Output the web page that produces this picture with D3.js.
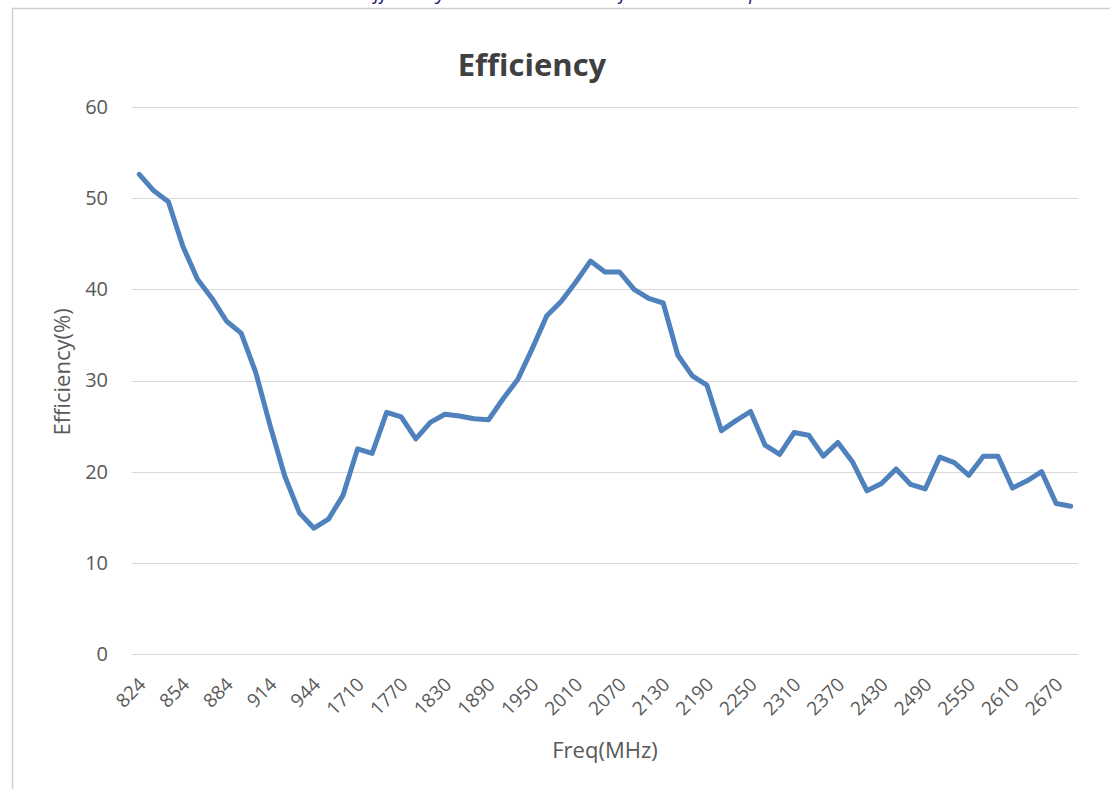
<!DOCTYPE html>
<html>
<head>
<meta charset="utf-8">
<script src="https://cdn.jsdelivr.net/npm/d3@7"></script>
<style>
  body { margin: 0; background: #fff; }
  text { font-family: "Open Sans", "Noto Sans", sans-serif; }
</style>
</head>
<body>
<div id="chart"></div>
<script>
(function() {
    var width = 1110,
        height = 789;

    // frequencies (MHz), one per measured point
    var freqs = ["824","834","844","854","864","874","884","894","904","914","924","934","944","954","960",
        "1710","1730","1750","1770","1790","1810","1830","1850","1870","1890","1910","1930","1950","1970","1990",
        "2010","2030","2050","2070","2090","2110","2130","2150","2170","2190","2210","2230","2250","2270","2290",
        "2310","2330","2350","2370","2390","2410","2430","2450","2470","2490","2510","2530","2550","2570","2590",
        "2610","2630","2650","2670","2690"];

    var efficiency = [52.6, 50.8, 49.6, 44.7, 41.1, 39.0, 36.5, 35.2, 30.9, 25.0, 19.5, 15.5, 13.8, 14.8, 17.4,
        22.5, 22.0, 26.5, 26.0, 23.6, 25.4, 26.3, 26.1, 25.8, 25.7, 28.0, 30.1, 33.5, 37.1, 38.7,
        40.8, 43.1, 41.9, 41.9, 40.0, 39.0, 38.5, 32.8, 30.5, 29.5, 24.5, 25.6, 26.6, 22.9, 21.9,
        24.3, 24.0, 21.7, 23.2, 21.1, 17.9, 18.7, 20.3, 18.6, 18.1, 21.6, 21.0, 19.6, 21.7, 21.7,
        18.2, 19.0, 20.0, 16.5, 16.2];

    var yTicks = [0, 10, 20, 30, 40, 50, 60];

    var svg = d3.select("#chart")
        .append("svg")
        .attr("width", width)
        .attr("height", height)

    // outer frame of the chart object (cropped)
    svg.append("path")
        .attr("d", "M12.5," + height + "V8.5H" + width)
        .attr("fill", "none")
        .attr("stroke", "#d0d0d0")
        .attr("stroke-width", 1.5)

    // heading of the page, cut off at the top edge
    svg.append("text")
        .attr("x", 570)
        .attr("y", -1)
        .attr("text-anchor", "middle")
        .attr("font-size", 20)
        .attr("font-style", "italic")
        .attr("fill", "#1f1f7a")
        .text("Efficiency / Gain Test Result of Antenna Sample")

    var x = d3.scaleBand()
        .domain(freqs)
        .range([132, 1078])

    var y = d3.scaleLinear()
        .domain([0, 60])
        .range([654, 107])

    // gridlines
    svg.selectAll(".grid")
        .data(yTicks)
        .enter().append("line")
        .attr("class", "grid")
        .attr("x1", 132)
        .attr("x2", 1078)
        .attr("y1", function(d) { return Math.round(y(d)) + 0.5 })
        .attr("y2", function(d) { return Math.round(y(d)) + 0.5 })
        .attr("stroke", "#d9d9d9")
        .attr("stroke-width", 1.2)

    // y axis labels
    var yAxis = svg.append("g")
        .attr("transform", "translate(108,0)")
        .call(d3.axisLeft(y).tickValues(yTicks).tickSize(0).tickPadding(0))
    yAxis.select(".domain").remove()
    yAxis.selectAll("text")
        .attr("font-size", 20)
        .attr("fill", "#595959")
        .style("font-family", "'Open Sans', sans-serif")

    // x axis labels, every third category
    var xAxis = svg.append("g")
        .attr("transform", "translate(0,664)")
        .call(d3.axisBottom(x)
            .tickValues(freqs.filter(function(d, i) { return i % 3 === 0 }))
            .tickSize(0))
    xAxis.select(".domain").remove()
    xAxis.selectAll("text")
        .attr("font-size", 19)
        .attr("fill", "#595959")
        .style("font-family", "'Open Sans', sans-serif")
        .attr("text-anchor", "end")
        .attr("y", 0)
        .attr("dy", "0.35em")
        .attr("transform", "translate(3,17) rotate(-45)")

    // the line
    var line = d3.line()
        .x(function(d, i) { return x(freqs[i]) + x.bandwidth() / 2 })
        .y(function(d) { return y(d) })

    svg.append("path")
        .datum(efficiency)
        .attr("d", line)
        .attr("fill", "none")
        .attr("stroke", "#4f81bd")
        .attr("stroke-width", 5)
        .attr("stroke-linejoin", "round")
        .attr("stroke-linecap", "round")

    // titles
    svg.append("text")
        .attr("x", 532)
        .attr("y", 76)
        .attr("text-anchor", "middle")
        .attr("font-size", 31)
        .attr("font-weight", "bold")
        .attr("fill", "#404040")
        .text("Efficiency")

    svg.append("text")
        .attr("transform", "translate(70,372) rotate(-90)")
        .attr("text-anchor", "middle")
        .attr("font-size", 22)
        .attr("fill", "#595959")
        .text("Efficiency(%)")

    svg.append("text")
        .attr("x", 605)
        .attr("y", 758)
        .attr("text-anchor", "middle")
        .attr("font-size", 22)
        .attr("fill", "#595959")
        .text("Freq(MHz)")
})();
</script>
</body>
</html>
